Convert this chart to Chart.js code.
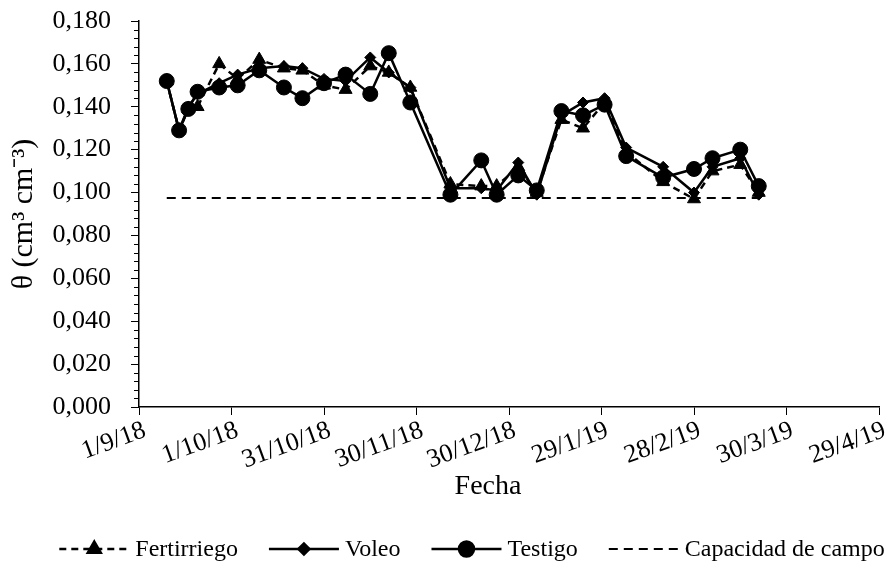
<!DOCTYPE html>
<html>
<head>
<meta charset="utf-8">
<script src="https://cdn.jsdelivr.net/npm/chart.js@4.4.0/dist/chart.umd.min.js"></script>
<style>
    html, body { margin: 0; padding: 0; background: #fff; }
    #wrap { width: 891px; height: 572px; position: relative; }
</style>
</head>
<body>
<div id="wrap"><canvas id="thetaChart"></canvas></div>
<script>
/* ================================
   DATOS
================================ */
const fechas = ['10/9/18', '14/9/18', '17/9/18', '20/9/18', '27/9/18', '3/10/18', '10/10/18',
    '18/10/18', '24/10/18', '31/10/18', '7/11/18', '15/11/18', '21/11/18', '28/11/18',
    '11/12/18', '21/12/18', '26/12/18', '2/1/19', '8/1/19', '16/1/19', '23/1/19', '30/1/19',
    '6/2/19', '18/2/19', '28/2/19', '6/3/19', '15/3/19', '21/3/19'];

const fertirriego = [0.152, 0.129, 0.139, 0.140, 0.160, 0.153, 0.162, 0.158, 0.157, 0.150, 0.148, 0.159, 0.156, 0.149,
    0.104, 0.103, 0.103, 0.112, 0.100, 0.134, 0.130, 0.142, 0.119, 0.105, 0.097, 0.110, 0.113, 0.100];
const voleo = [0.152, 0.129, 0.140, 0.146, 0.151, 0.155, 0.158, 0.159, 0.158, 0.153, 0.152, 0.163, 0.156, 0.149,
    0.102, 0.102, 0.101, 0.114, 0.099, 0.136, 0.142, 0.144, 0.121, 0.112, 0.100, 0.112, 0.116, 0.099];
const testigo = [0.152, 0.129, 0.139, 0.147, 0.149, 0.150, 0.157, 0.149, 0.144, 0.151, 0.155, 0.146, 0.165, 0.142,
    0.099, 0.115, 0.099, 0.108, 0.101, 0.138, 0.136, 0.141, 0.117, 0.107, 0.111, 0.116, 0.120, 0.103];
const capacidadCampo = 0.0975;

const etiquetasX = ['1/9/18', '1/10/18', '31/10/18', '30/11/18', '30/12/18', '29/1/19', '28/2/19', '30/3/19', '29/4/19'];

const FUENTE = '"Liberation Serif", "Times New Roman", serif';
const INICIO = Date.UTC(2018, 8, 1);

// convierte 'd/m/aa' en días desde 1/9/18
function diaDesde(fecha) {
    const [d, m, a] = fecha.split('/').map(Number);
    return (Date.UTC(2000 + a, m - 1, d) - INICIO) / 86400000;
}

const serie = (valores) => valores.map((v, i) => ({ x: diaDesde(fechas[i]), y: v }));

/* ================================
   PLUGINS (marcas menores, título X y leyenda)
================================ */
const marcasMenores = {
    id: 'marcasMenores',
    afterDraw(chart) {
        const s = chart.scales.y;
        const ctx = chart.ctx;
        ctx.save();
        ctx.strokeStyle = '#000';
        ctx.lineWidth = 1;
        for (let i = 0; i <= 45; i++) {
            if (i % 5 === 0) continue;
            const py = Math.round(s.getPixelForValue(i * 0.004)) + 0.5;
            ctx.beginPath();
            ctx.moveTo(s.right - 5, py);
            ctx.lineTo(s.right, py);
            ctx.stroke();
        }
        ctx.restore();
    }
};

// título del eje X (en Excel queda algo a la izquierda del centro del área)
const tituloFecha = {
    id: 'tituloFecha',
    afterDraw(chart) {
        const ctx = chart.ctx;
        ctx.save();
        ctx.font = '28px ' + FUENTE;
        ctx.fillStyle = '#000';
        ctx.textAlign = 'center';
        ctx.textBaseline = 'middle';
        ctx.fillText('Fecha', 488, 487);
        ctx.restore();
    }
};

const leyendaExcel = {
    id: 'leyendaExcel',
    afterDraw(chart) {
        const ctx = chart.ctx;
        const y = 549;
        const symW = 70, gapTxt = 6, gapItem = 31;
        ctx.save();
        ctx.font = '24px ' + FUENTE;
        ctx.textBaseline = 'middle';
        const items = chart.data.datasets;
        let total = gapItem * (items.length - 1);
        items.forEach(ds => total += symW + gapTxt + ctx.measureText(ds.label).width);
        let x = 472 - total / 2;
        items.forEach(ds => {
            ctx.strokeStyle = '#000';
            ctx.lineWidth = ds.borderWidth;
            ctx.setLineDash(ds.borderDash || []);
            ctx.beginPath();
            ctx.moveTo(x, y);
            ctx.lineTo(x + symW, y);
            ctx.stroke();
            ctx.setLineDash([]);
            if (ds.pointRadius > 0) {
                ctx.fillStyle = '#000';
                Chart.helpers.drawPoint(ctx, { pointStyle: ds.pointStyle, radius: ds.pointRadius, borderWidth: 1, rotation: 0 }, x + symW / 2, y);
            }
            ctx.fillStyle = '#000';
            ctx.textAlign = 'left';
            ctx.fillText(ds.label, x + symW + gapTxt, y + 1);
            x += symW + gapTxt + ctx.measureText(ds.label).width + gapItem;
        });
        ctx.restore();
    }
};

/* ================================
   GRÁFICO
================================ */
const linea = (label, valores, estilo, radio, orden, dash) => ({
    label: label,
    data: serie(valores),
    borderColor: '#000',
    backgroundColor: '#000',
    borderWidth: 2.5,
    borderDash: dash,
    pointStyle: estilo,
    pointRadius: radio,
    pointBorderWidth: 1,
    tension: 0,
    order: orden
});

new Chart(document.getElementById('thetaChart'), {
    type: 'line',
    data: {
        datasets: [
            linea('Fertirriego', fertirriego, 'triangle', 7.5, 2, [7, 5]),
            linea('Voleo', voleo, 'rectRot', 5.5, 1, []),
            linea('Testigo', testigo, 'circle', 7.5, 0, []),
            {
                label: 'Capacidad de campo',
                data: [
                    { x: diaDesde(fechas[0]), y: capacidadCampo },
                    { x: diaDesde(fechas[fechas.length - 1]), y: capacidadCampo }
                ],
                borderColor: '#000',
                borderWidth: 2,
                borderDash: [9, 6],
                pointRadius: 0,
                order: 3
            }
        ]
    },
    options: {
        responsive: true,
        maintainAspectRatio: false,
        animation: false,
        layout: { padding: { left: 0, right: 12, top: 21, bottom: 67 } },
        plugins: { legend: { display: false }, tooltip: { enabled: false } },
        scales: {
            x: {
                type: 'linear',
                min: 0,
                max: 240,
                afterFit: (s) => { s.height = 98; },
                border: { color: '#000', width: 1.5 },
                grid: { drawOnChartArea: false, color: '#000', tickLength: 8 },
                ticks: {
                    stepSize: 30,
                    autoSkip: false,
                    minRotation: 20,
                    maxRotation: 20,
                    labelOffset: 6,
                    padding: 0,
                    color: '#000',
                    font: { family: FUENTE, size: 26 },
                    callback: (v) => etiquetasX[Math.round(v / 30)]
                }
            },
            y: {
                min: 0,
                max: 0.18,
                afterFit: (s) => {
                    s.width = 139;
                    s.paddingTop = 0;
                    s.paddingBottom = 0;
                },
                border: { color: '#000', width: 1.5 },
                grid: { drawOnChartArea: false, color: '#000', tickLength: 8 },
                ticks: {
                    stepSize: 0.02,
                    padding: 20,
                    color: '#000',
                    font: { family: FUENTE, size: 26 },
                    callback: (v) => v.toFixed(3).replace('.', ',')
                },
                title: {
                    display: true,
                    text: 'θ (cm³ cm⁻³)',
                    color: '#000',
                    padding: 6,
                    font: { family: FUENTE, size: 30 }
                }
            }
        }
    },
    plugins: [marcasMenores, tituloFecha, leyendaExcel]
});
</script>
</body>
</html>
